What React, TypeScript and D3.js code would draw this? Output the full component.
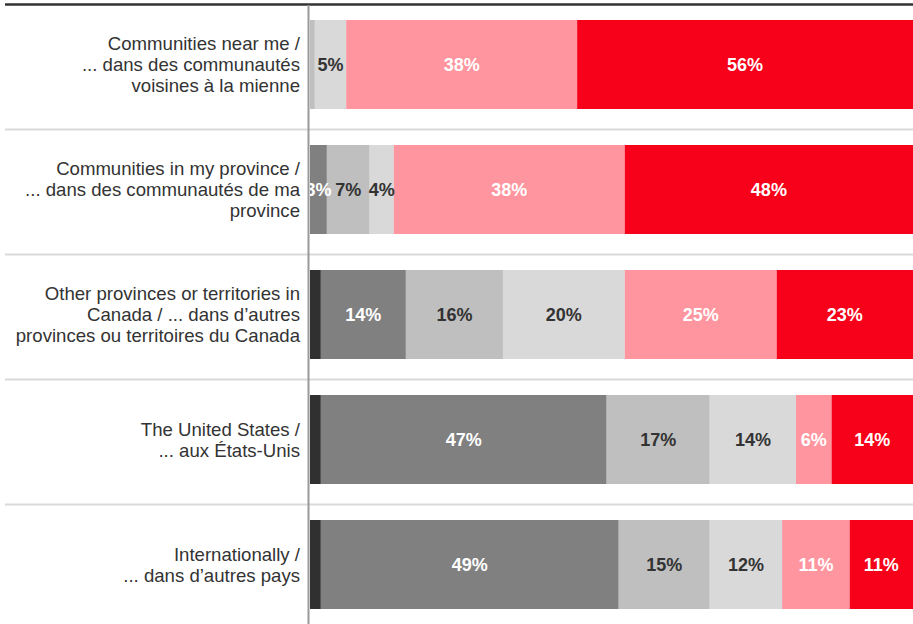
import React from "react";
import * as d3 from "d3";

const categories: string[][] = [
  ["Communities near me /", "... dans des communautés", "voisines à la mienne"],
  ["Communities in my province /", "... dans des communautés de ma", "province"],
  ["Other provinces or territories in", "Canada / ... dans d’autres", "provinces ou territoires du Canada"],
  ["The United States /", "... aux États-Unis"],
  ["Internationally /", "... dans d’autres pays"],
];

const seriesKeys = ["s1", "s2", "s3", "s4", "s5", "s6"];
const s1 = [0, 0, 1.8, 1.8, 1.8];
const s2 = [0, 2.8, 14.1, 47.4, 49.4];
const s3 = [0.8, 7.1, 16.1, 17.1, 15.1];
const s4 = [5.2, 4.0, 20.2, 14.3, 12.0];
const s5 = [38.3, 38.3, 25.2, 5.9, 11.2];
const s6 = [55.7, 47.8, 22.6, 13.5, 10.5];
const seriesValues = [s1, s2, s3, s4, s5, s6];

const colors = ["#303030", "#808080", "#bfbfbf", "#d9d9d9", "#ff959e", "#f70019"];
const labelColors = ["#fff", "#fff", "#333", "#333", "#fff", "#fff"];
const minLabel = 2;

export default function App() {
  const W = 913;
  const H = 624;
  const x = d3.scaleLinear().domain([0, 100]).range([310, 913]);
  const y = d3
    .scaleBand<number>()
    .domain(categories.map((_, i) => i))
    .range([2, 627])
    .paddingInner(0.288)
    .paddingOuter(0.144);

  const rows = categories.map((_, i) => {
    const obj: any = { idx: i };
    seriesKeys.forEach((k, j) => (obj[k] = seriesValues[j][i]));
    return obj;
  });
  const stacked = d3.stack<any>().keys(seriesKeys)(rows);
  const lineH = 21;

  return (
    <svg
      width={W}
      height={H}
      style={{ position: "absolute", left: 0, top: 0, fontFamily: "'Liberation Sans', Arial, sans-serif" }}
    >
      <rect width={W} height={H} fill="#fff" />
      <line x1={5} x2={W} y1={4.5} y2={4.5} stroke="#333" strokeWidth={2.5} />
      {categories.map((_, i) =>
        i === 0 ? null : (
          <line
            key={"sep" + i}
            x1={5}
            x2={W}
            y1={(y(i) as number) - 15.5}
            y2={(y(i) as number) - 15.5}
            stroke="#d9d9d9"
            strokeWidth={2}
          />
        )
      )}
      {stacked.map((layer, j) => (
        <g key={layer.key}>
          {layer.map((d, i) => {
            const x0 = x(d[0]);
            const x1 = x(d[1]);
            const w = x1 - x0;
            if (w <= 0) return null;
            return <rect key={i} x={x0} y={y(i)} width={w} height={y.bandwidth()} fill={colors[j]} />;
          })}
        </g>
      ))}
      {stacked.map((layer, j) => (
        <g key={"l" + layer.key}>
          {layer.map((d, i) => {
            const v = seriesValues[j][i];
            if (v < minLabel) return null;
            const cx = (x(d[0]) + x(d[1])) / 2;
            return (
              <text
                key={i}
                x={cx}
                y={(y(i) as number) + y.bandwidth() / 2}
                dy="0.36em"
                textAnchor="middle"
                fontWeight="bold"
                fontSize={18}
                fill={labelColors[j]}
              >
                {Math.round(v) + "%"}
              </text>
            );
          })}
        </g>
      ))}
      <line x1={308.5} x2={308.5} y1={5} y2={H} stroke="#999" strokeWidth={2} />
      {categories.map((lines, i) => {
        const cy = (y(i) as number) + y.bandwidth() / 2;
        const start = cy - ((lines.length - 1) * lineH) / 2;
        return (
          <text key={"c" + i} textAnchor="end" fontSize={18.6} fill="#333">
            {lines.map((t, k) => (
              <tspan key={k} x={300} y={start + k * lineH} dy="0.35em">
                {t}
              </tspan>
            ))}
          </text>
        );
      })}
    </svg>
  );
}
